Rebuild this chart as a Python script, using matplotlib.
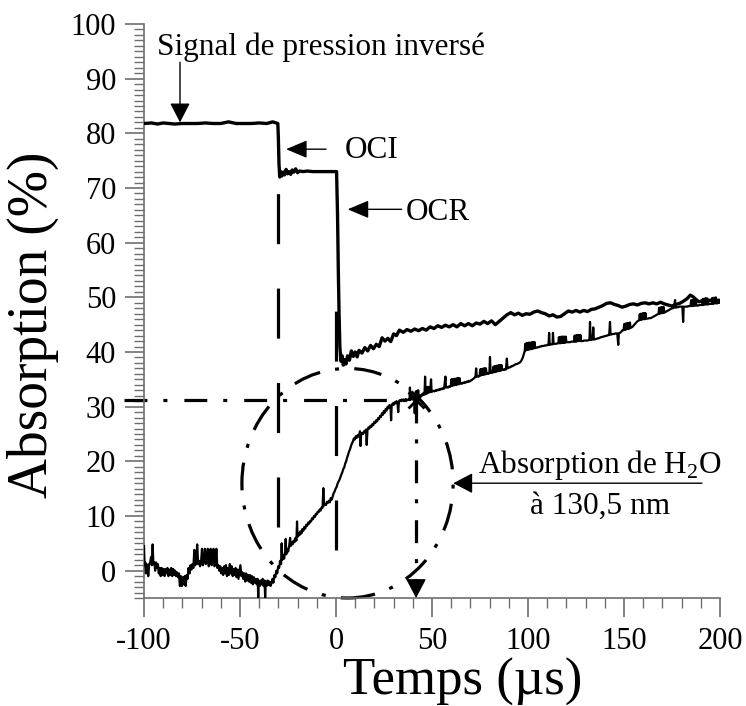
import matplotlib
matplotlib.use("Agg")
import matplotlib.pyplot as plt
from matplotlib.patches import Ellipse
from matplotlib.ticker import MultipleLocator, FixedLocator

plt.rcParams['font.family'] = ['Liberation Serif', 'DejaVu Serif']
plt.rcParams['mathtext.fontset'] = 'custom'
plt.rcParams['mathtext.rm'] = 'Liberation Serif'
plt.rcParams['lines.scale_dashes'] = False

# Inverted pressure signal (smooth trace)
t_press = [-100, -96, -93, -90, -87, -84, -80, -76, -72, -68, -64, -60, -56, -52, -48, -44, -40, -36, -33,
           -30.3, -30.0, -29.7, -29.3, -28.8, -28.2, -27.5, -26.8, -26, -25.2, -24.4, -23.6, -22.8, -22, -21,
           -20, -19, -17, -15, -12, -8, -4, 0.3, 0.8, 1.2, 1.6, 2.0, 2.6, 3.2, 3.8, 4.5, 5.2, 6, 7, 8, 9, 10,
           11, 12, 13.5, 15, 16.5, 18, 19.5, 21, 22.5, 24, 25.5, 27, 28.5, 30, 31.5, 33, 35, 37, 39, 41, 43,
           45, 47, 49, 51, 53, 55, 57, 59, 61, 63, 65, 67, 69, 71, 73, 75, 77, 79, 81, 83, 85, 87, 89, 91, 93,
           95, 97, 99, 101, 103, 105, 107, 109, 111, 113, 115, 117, 119, 121, 123, 125, 127, 129, 131, 133,
           135, 137, 139, 141, 143, 145, 147, 149, 151, 153, 155, 157, 159, 161, 163, 165, 167, 169, 171, 173,
           175, 177, 179, 181, 183, 184.5, 186, 187.5, 189, 191, 193, 195, 197, 199, 200]
a_press = [81.8, 81.9, 81.7, 81.9, 81.8, 81.7, 81.8, 81.8, 81.8, 81.9, 81.8, 81.8, 82.1, 81.8, 81.8, 81.8, 81.9, 81.8, 82.1,
           81.8, 79.0, 74.5, 72.0, 73.0, 72.2, 72.9, 72.4, 73.4, 72.6, 73.0, 72.5, 73.3, 72.9, 73.5,
           72.8, 73.1, 73.0, 73.1, 73.0, 73.0, 73.0, 73.0, 65.0, 55.0, 47.0, 41.0, 38.3, 39.3, 37.6, 38.6, 37.8, 39.3, 38.5, 40.2, 39.2, 40.0,
           39.1, 40.3, 39.8, 40.8, 40.2, 41.2, 40.6, 41.4, 41.0, 42.6, 42.0, 42.5, 41.9, 43.3, 43.0, 44.0, 43.6, 44.1, 43.8, 44.2, 43.9,
           44.3, 44.0, 44.6, 44.3, 44.8, 44.5, 44.9, 44.6, 45.0, 44.6, 45.2, 44.8, 45.2, 44.8, 45.3, 45.1, 45.6, 45.2, 45.7, 45.0, 45.6, 46.2, 46.8, 47.2, 46.8,
           47.1, 46.7, 47.0, 46.9, 47.3, 47.5, 47.2, 47.0, 46.6, 46.8, 46.4, 46.5, 47.0, 47.5, 47.3, 47.6, 47.3, 47.6, 47.4, 47.8,
           47.9, 48.2, 48.5, 48.9, 49.0, 48.7, 48.5, 48.2, 48.4, 48.7, 48.8, 48.6, 48.9, 49.0, 48.8, 49.0, 48.8, 49.1, 48.8, 48.6,
           48.4, 48.7, 48.9, 49.3, 49.8, 50.4, 50.1, 49.6, 49.2, 49.4, 49.2, 49.5, 49.3, 49.5, 49.4]

h2o_before = [
    (-100, 4.5), (-99.7, 1.0), (-99.3, 1.5), (-99, -0.5), (-98.7, 1.2), (-98.2, 1.0), (-97.8, -1.0), (-97.3, 1.2),
    (-96.8, 1.5), (-96.3, 2.5), (-95.9, 1.0), (-95.5, 4.8), (-95.1, 1.2), (-94.6, 1.5), (-94.2, 0.0), (-93.7, 1.5),
    (-93.3, 0.5), (-92.8, 1.2), (-92.3, -0.5), (-91.8, 0.5), (-91.3, -1.0), (-90.8, 0.5), (-90.3, -0.8), (-89.8, 0.3),
    (-89.3, -1.0), (-88.8, 0.3), (-88.3, -0.5), (-87.8, 0.5), (-87.3, -1.0), (-86.8, 0.2), (-86.3, -0.8), (-85.8, 0.5),
    (-85.3, -1.0), (-84.8, 0.3), (-84.3, -0.8), (-83.8, 0.0), (-83.3, -1.0), (-82.8, -0.3), (-82.3, -1.2), (-81.8, -0.5),
    (-81.3, -2.8), (-80.8, -1.0), (-80.3, -2.8), (-79.8, -1.2), (-79.3, -2.5), (-78.8, -1.0), (-78.3, -2.8), (-77.8, -0.8),
    (-77.3, -1.5), (-76.8, 0.5), (-76.3, -0.5), (-75.8, 1.0), (-75.3, 0.2), (-74.8, 1.2), (-74.3, 0.5), (-73.8, 3.8),
    (-73.3, 1.0), (-72.8, 1.5), (-72.3, 4.8), (-71.8, 1.2), (-71.3, 1.8), (-70.8, 0.8), (-70.3, 1.5), (-69.8, 4.0),
    (-69.3, 1.0), (-68.8, 1.8), (-68.3, 4.0), (-67.8, 1.2), (-67.3, 1.5), (-66.8, 4.0), (-66.3, 0.8), (-65.8, 1.5),
    (-65.3, 4.0), (-64.8, 1.0), (-64.3, 1.5), (-63.8, 4.0), (-63.3, 0.8), (-62.8, 1.2), (-62.3, 4.0), (-61.8, 0.5),
    (-61.3, 1.0), (-60.8, 0.0), (-60.3, 0.8), (-59.8, -0.5), (-59.3, 0.5), (-58.8, -0.8), (-58.3, 0.8), (-57.8, -0.5),
    (-57.3, 1.0), (-56.8, -1.0), (-56.3, 0.5), (-55.8, -0.8), (-55.3, 1.2), (-54.8, -0.5), (-54.3, 0.8), (-53.8, -1.0),
    (-53.3, 0.3), (-52.8, -0.8), (-52.3, 0.5), (-51.8, -1.2), (-51.3, 0.2), (-50.8, -1.5), (-50.3, -0.2), (-49.8, 1.0),
    (-49.3, -1.0), (-48.8, -0.3), (-48.3, -1.5), (-47.8, -0.5), (-47.3, -2.0), (-46.8, -0.5), (-46.3, -1.8), (-45.8, -0.8),
    (-45.3, -2.0), (-44.8, -0.8), (-44.3, -2.2), (-43.8, -1.0), (-43.3, -2.5), (-42.8, -1.2), (-42.3, -2.2), (-41.8, -1.5),
    (-41.3, -2.5), (-40.8, -1.5), (-40.5, -5.0), (-40.2, -1.8), (-39.7, -2.8), (-39.2, -1.8), (-38.7, -2.5), (-38.2, -1.5),
    (-37.7, -2.8), (-37.2, -1.8), (-36.9, -5.0), (-36.6, -2.0), (-36.1, -2.8), (-35.6, -1.8), (-35.1, -2.6), (-34.6, -2.0),
    (-34.1, -2.8), (-33.6, -2.3),
]
h2o_rise = [
    (-33.1, -1.5), (-32.6, -2.2), (-32.1, -0.8), (-31.6, -1.2), (-31.1, 0.0), (-30.6, -0.5), (-30.1, 0.8), (-29.6, 0.5),
    (-29.1, 1.8), (-28.6, 1.2), (-28.3, 5.0), (-28.0, 2.0), (-27.5, 2.8), (-27.0, 2.2), (-26.5, 3.5), (-26.2, 5.8),
    (-25.9, 3.0), (-25.4, 4.0), (-24.9, 3.5), (-24.4, 4.5), (-23.9, 6.0), (-23.6, 4.5), (-23.1, 5.2), (-22.6, 4.8),
    (-22.1, 5.5), (-21.6, 5.2), (-21.1, 6.0), (-20.6, 5.5), (-20.3, 9.0), (-20.0, 6.2), (-19.5, 6.8), (-19.0, 6.5),
    (-18.5, 7.2), (-18.0, 6.8), (-17.5, 7.6), (-17.0, 7.3), (-16.5, 8.0), (-16.0, 7.7), (-15.5, 8.4), (-15.0, 8.2),
    (-14.5, 8.8), (-14.0, 8.6), (-13.5, 9.1), (-13.0, 9.0), (-12.5, 9.6), (-12.0, 9.4), (-11.5, 10.0), (-11.0, 9.8),
    (-10.5, 10.4), (-10.0, 10.3), (-9.5, 10.8), (-9.0, 10.7), (-8.5, 11.2), (-8.0, 11.0), (-7.5, 11.6), (-7.0, 11.5),
    (-6.6, 15.1), (-6.2, 11.9), (-5.7, 12.2), (-5.2, 12.0), (-4.7, 12.6), (-4.2, 12.4), (-3.7, 12.8), (-3.2, 12.5),
    (-2.7, 13.3), (-2.2, 13.0), (-1.7, 13.6), (-1.2, 14.2), (-0.7, 14.5), (-0.2, 15.0), (0.3, 15.3), (0.8, 15.9),
    (1.3, 16.3), (1.8, 16.6), (2.3, 17.1), (2.8, 17.6), (3.3, 18.0), (3.8, 18.6), (4.3, 18.9), (4.8, 19.6),
    (5.3, 20.0), (5.8, 20.7), (6.3, 21.2), (6.8, 21.8), (7.3, 22.2), (7.8, 22.8), (8.3, 23.3), (8.8, 23.6),
    (9.3, 24.2), (9.8, 24.0), (10.3, 24.6), (10.8, 24.3), (11.3, 24.8), (11.8, 24.5), (12.5, 25.5), (12.8, 22.8),
    (13.1, 25.0), (13.6, 25.2), (14.1, 25.0), (14.6, 25.5), (15.1, 25.3), (15.6, 25.8), (16.0, 23.0), (16.4, 25.8),
    (16.9, 26.2), (17.4, 26.0), (17.9, 26.5), (18.4, 26.3), (18.9, 26.8), (19.4, 26.6), (19.9, 27.2), (20.4, 27.0),
    (20.9, 27.5), (21.4, 27.3), (21.9, 27.9), (22.4, 27.7), (22.9, 28.3), (23.4, 28.1), (23.9, 28.8), (24.4, 28.5),
    (24.9, 29.2), (25.4, 28.9), (25.9, 29.6), (26.4, 29.3), (26.9, 30.0), (27.4, 29.7), (27.9, 30.3), (28.4, 30.0),
    (28.7, 27.5), (29.0, 30.2), (29.5, 30.6), (30.0, 30.3), (30.5, 30.8), (31.0, 30.6), (31.5, 31.0), (32.0, 30.8),
    (32.4, 29.0), (32.8, 31.0), (33.3, 31.2), (33.8, 31.0), (34.3, 31.3), (34.8, 31.1), (35.3, 31.3), (35.8, 31.1),
    (36.3, 31.4), (36.8, 31.2),
]
h2o_after = [
    (37.3, 31.2), (37.8, 31.4), (38.3, 31.2), (38.5, 33.5), (38.8, 31.3), (39.3, 31.5), (39.8, 31.3), (40.3, 31.6),
    (40.8, 31.4), (41.0, 28.8), (41.3, 31.5), (41.6, 32.8), (41.9, 31.6), (42.2, 32.9), (42.5, 31.7), (42.8, 33.0),
    (43.1, 31.8), (43.6, 32.0), (44.1, 31.9), (44.6, 32.2), (45.1, 32.1), (45.6, 32.3), (46.1, 32.2), (46.4, 35.5),
    (46.7, 32.3), (47.0, 33.5), (47.3, 32.4), (47.6, 33.6), (47.9, 32.5), (48.2, 33.6), (48.5, 32.6), (49.0, 32.7),
    (49.5, 35.0), (49.8, 32.7), (50.3, 32.8), (50.8, 32.9), (51.3, 32.8), (51.8, 33.0), (52.3, 32.9), (52.8, 33.1),
    (53.3, 33.0), (53.8, 33.2), (54.3, 33.1), (54.8, 33.3), (55.3, 33.2), (55.8, 33.4), (56.3, 33.3), (57.0, 35.5),
    (57.3, 33.5), (57.8, 33.6), (58.3, 33.5), (58.8, 33.7), (59.3, 33.6), (59.8, 33.8), (60.1, 35.0), (60.4, 33.8),
    (60.7, 35.0), (61.0, 33.9), (61.3, 35.0), (61.6, 33.9), (61.9, 35.1), (62.2, 34.0), (62.5, 35.1), (62.8, 34.0),
    (63.1, 35.2), (63.4, 34.1), (63.7, 35.2), (64.0, 34.1), (64.3, 35.2), (64.6, 34.2), (65.1, 34.3), (65.6, 34.2),
    (66.1, 34.4), (66.6, 34.3), (67.1, 34.5), (67.6, 34.4), (68.1, 34.6), (68.6, 34.5), (69.1, 34.7), (69.6, 34.6),
    (70.1, 34.8), (70.6, 34.8), (71.1, 35.0), (71.6, 35.1), (72.1, 35.3), (72.6, 35.4), (73.0, 37.0), (73.3, 35.5),
    (73.8, 35.6), (74.3, 35.5), (74.8, 35.7), (75.1, 36.8), (75.4, 35.7), (75.7, 36.9), (76.0, 35.8), (76.3, 36.9),
    (76.6, 35.8), (76.9, 37.0), (77.2, 35.9), (77.5, 37.0), (77.8, 35.9), (78.1, 37.0), (78.4, 36.0), (78.9, 36.1),
    (79.4, 36.0), (79.9, 36.2), (80.2, 39.1), (80.5, 36.2), (81.0, 36.3), (81.5, 36.2), (82.0, 37.3), (82.3, 36.3),
    (82.6, 37.4), (82.9, 36.4), (83.2, 37.4), (83.5, 36.4), (83.8, 37.5), (84.1, 36.5), (84.4, 37.5), (84.7, 36.5),
    (85.0, 37.6), (85.3, 36.6), (85.6, 37.6), (85.9, 36.6), (86.2, 37.6), (86.5, 36.7), (87.0, 36.8), (87.5, 36.7),
    (88.0, 36.9), (88.5, 36.8), (89.0, 38.8), (89.3, 37.0), (89.8, 37.1), (90.3, 37.2), (90.8, 37.2), (91.3, 37.4),
    (91.8, 37.4), (92.3, 37.5), (92.8, 37.6), (93.3, 37.7), (93.8, 37.8), (94.3, 37.8), (94.8, 37.9), (95.3, 38.0),
    (95.8, 38.1), (96.3, 38.3), (96.8, 38.6), (97.3, 39.0), (97.8, 39.6), (98.3, 40.2), (98.6, 41.5), (98.9, 40.3),
    (99.2, 41.6), (99.5, 40.4), (99.8, 41.6), (100.1, 40.4), (100.4, 41.7), (100.7, 40.5), (101.0, 41.7), (101.3, 40.5),
    (101.6, 41.7), (101.9, 40.6), (102.2, 41.8), (102.5, 40.6), (102.8, 41.8), (103.1, 40.7), (103.4, 41.8), (103.7, 40.7),
    (104.2, 40.8), (104.7, 40.8), (105.2, 40.9), (105.7, 40.9), (106.2, 41.0), (106.7, 41.0), (107.2, 41.1), (107.7, 41.1),
    (108.2, 41.1), (108.7, 41.2), (109.2, 41.2), (109.7, 41.2), (110.2, 41.3), (110.7, 41.3), (111.0, 43.5), (111.3, 41.3),
    (111.8, 41.4), (112.3, 41.4), (112.8, 41.4), (113.0, 43.5), (113.3, 41.5), (113.8, 41.5), (114.3, 41.5), (114.8, 41.5),
    (115.3, 41.6), (115.8, 41.6), (116.1, 42.7), (116.4, 41.6), (116.7, 42.7), (117.0, 41.6), (117.3, 42.8), (117.6, 41.7),
    (117.9, 42.8), (118.2, 41.7), (118.5, 42.8), (118.8, 41.7), (119.1, 42.8), (119.4, 41.7), (119.7, 42.8), (120.0, 41.8),
    (120.5, 41.8), (121.0, 41.8), (121.5, 41.8), (122.0, 41.8), (122.5, 41.9), (123.0, 41.9), (123.5, 41.9), (124.0, 41.9),
    (124.3, 43.0), (124.6, 41.9), (124.9, 43.0), (125.2, 41.9), (125.5, 43.1), (125.8, 42.0), (126.1, 43.1), (126.4, 42.0),
    (126.7, 43.1), (127.0, 42.0), (127.3, 43.1), (127.6, 42.0), (128.1, 42.0), (128.6, 42.0), (129.1, 42.1), (129.6, 42.1),
    (130.1, 42.1), (130.6, 42.1), (131.1, 42.1), (131.6, 42.2), (132.0, 42.2), (132.3, 45.5), (132.6, 42.2), (133.1, 42.2),
    (133.6, 42.3), (134.0, 44.5), (134.3, 42.3), (134.8, 42.3), (135.3, 42.4), (135.8, 42.4), (136.3, 42.5), (136.8, 42.5),
    (137.3, 42.6), (137.8, 42.7), (138.3, 42.7), (138.8, 42.8), (139.3, 42.8), (139.8, 42.9), (140.3, 42.9), (140.8, 43.0),
    (141.3, 43.0), (141.8, 43.1), (142.3, 43.1), (142.7, 45.5), (143.0, 43.2), (143.5, 43.2), (144.0, 43.3), (144.5, 43.3),
    (145.0, 43.3), (145.5, 43.4), (146.0, 43.4), (146.5, 43.4), (147.0, 41.3), (147.3, 43.4), (147.8, 43.5), (148.3, 43.6),
    (148.8, 43.8), (149.3, 44.0), (149.8, 44.0), (150.1, 45.1), (150.4, 44.1), (150.7, 45.2), (151.0, 44.1), (151.3, 45.2),
    (151.6, 44.2), (151.9, 45.3), (152.2, 44.2), (152.5, 45.3), (152.8, 44.3), (153.1, 45.4), (153.4, 44.4), (153.9, 44.5),
    (154.4, 44.6), (154.9, 44.8), (155.4, 45.0), (155.9, 45.2), (156.4, 45.4), (156.9, 45.6), (157.4, 45.7), (157.9, 45.8),
    (158.2, 46.9), (158.5, 45.9), (158.8, 47.0), (159.1, 45.9), (159.4, 47.0), (159.7, 46.0), (160.0, 47.1), (160.3, 46.0),
    (160.6, 47.1), (160.9, 46.0), (161.2, 47.1), (161.5, 46.1), (162.0, 46.1), (162.5, 46.1), (163.0, 46.2), (163.5, 46.2),
    (164.0, 46.2), (164.5, 46.3), (165.0, 46.4), (165.5, 46.5), (166.0, 46.6), (166.5, 46.7), (167.0, 46.8), (167.5, 46.9),
    (168.0, 47.0), (168.3, 48.1), (168.6, 47.0), (168.9, 48.1), (169.2, 47.1), (169.5, 48.2), (169.8, 47.1), (170.1, 48.2),
    (170.4, 47.2), (170.7, 48.2), (171.0, 47.2), (171.5, 47.3), (172.0, 47.4), (172.5, 47.5), (173.0, 47.6), (173.5, 47.7),
    (174.0, 47.8), (174.5, 47.9), (175.0, 48.0), (175.5, 48.0), (176.0, 48.1), (176.6, 49.5), (176.9, 48.1), (177.4, 48.2),
    (177.9, 48.2), (178.4, 48.2), (178.9, 48.3), (179.4, 48.3), (179.9, 48.3), (180.4, 48.3), (180.8, 45.5), (181.1, 48.3),
    (181.6, 48.3), (182.1, 48.3), (182.6, 48.3), (183.1, 48.3), (183.6, 48.4), (184.1, 48.4), (184.6, 48.4), (185.0, 49.5),
    (185.3, 48.4), (185.6, 49.5), (185.9, 48.4), (186.2, 49.5), (186.5, 48.5), (186.8, 49.6), (187.1, 48.5), (187.4, 49.6),
    (187.7, 48.5), (188.2, 48.5), (188.7, 48.5), (189.2, 48.6), (189.7, 48.6), (190.2, 48.6), (190.7, 48.6), (191.0, 49.7),
    (191.3, 48.6), (191.6, 49.7), (191.9, 48.7), (192.2, 49.8), (192.5, 48.7), (192.8, 49.8), (193.1, 48.7), (193.4, 49.8),
    (193.7, 48.7), (194.2, 48.8), (194.7, 48.8), (195.2, 48.8), (195.7, 48.8), (196.0, 49.9), (196.3, 48.8), (196.6, 49.9),
    (196.9, 48.9), (197.2, 49.9), (197.5, 48.9), (197.8, 50.0), (198.1, 48.9), (198.6, 48.9), (199.1, 49.0), (199.6, 49.0),
    (200.0, 49.0),
]
t_h2o = [p[0] for p in h2o_before + h2o_rise + h2o_after]
a_h2o = [p[1] for p in h2o_before + h2o_rise + h2o_after]

x_ticks = [-100, -50, 0, 50, 100, 150, 200]
y_ticks = [0, 10, 20, 30, 40, 50, 60, 70, 80, 90, 100]

# Reference markers
t_oci = -30          # onde de choc incidente
t_ocr = 0            # onde de choc réfléchie
cross_t, cross_a = 41.7, 31.2
circle_center = (6.0, 16.0)
circle_size = (110.0, 42.0)

W, H = 746, 706
fig = plt.figure(figsize=(W / 100, H / 100), dpi=100)
ax = fig.add_axes([144 / W, 1 - 598 / H, 576 / W, 574 / H])
ax.set_xlim(-100, 200)
ax.set_ylim(-5, 100)

axis_color = '#6e6e6e'
for side in ('top', 'right'):
    ax.spines[side].set_visible(False)
for side in ('left', 'bottom'):
    ax.spines[side].set_color(axis_color)
    ax.spines[side].set_linewidth(1.2)

ax.xaxis.set_major_locator(FixedLocator(x_ticks))
ax.xaxis.set_minor_locator(MultipleLocator(10))
ax.yaxis.set_major_locator(FixedLocator(y_ticks))
ax.yaxis.set_minor_locator(MultipleLocator(1))
ax.set_xticklabels([str(v) for v in x_ticks])
ax.set_yticklabels([str(v) for v in y_ticks])
ax.tick_params(which='major', direction='out', length=14, width=1.2, color=axis_color,
               labelsize=22, labelcolor='black')
ax.tick_params(which='minor', direction='out', length=7, width=1.0, color=axis_color)
ax.tick_params(axis='y', which='major', pad=6)
ax.tick_params(axis='x', which='major', pad=7)

dash_long = (0, (36, 32))
dash_dot = (0, (16.5, 11.5, 2.9, 12.2))

# Vertical markers for the incident and reflected shocks
ax.plot([t_oci, t_oci], [8.0, 70.0], color='black', lw=2.3, linestyle=dash_long, zorder=2)
ax.plot([t_ocr, t_ocr], [3.8, 48.4], color='black', lw=2.3, linestyle=dash_long, zorder=2)

# Data traces
ax.plot(t_h2o, a_h2o, color='black', lw=1.6, zorder=3)
ax.plot(t_press, a_press, color='black', lw=2.4, zorder=4)

# Dash-dot guides at 31 %
ax.plot([-110.4, cross_t], [cross_a, cross_a], color='black', lw=2.3, linestyle=dash_dot,
        clip_on=False, zorder=2)
ax.plot([cross_t, cross_t], [cross_a, -1.6], color='black', lw=2.3, linestyle=dash_dot, zorder=2)
ax.plot([cross_t], [cross_a], marker='x', ms=11, mew=2, color='black', zorder=5)

ell = Ellipse(circle_center, circle_size[0], circle_size[1], fill=False, edgecolor='black',
              lw=2.3, linestyle=(0, (20, 11, 2.9, 11)), clip_on=False, zorder=2)
ax.add_patch(ell)


def arrow(tip, tail, hl=12, hw=6.2, lw=1.0):
    ax.annotate('', xy=tip, xytext=tail,
                arrowprops=dict(arrowstyle=f'-|>,head_length={hl},head_width={hw}',
                                color='black', lw=lw, shrinkA=0, shrinkB=0,
                                mutation_scale=1),
                annotation_clip=False)


txt = dict(fontsize=22.5, color='black')

ax.text(-93.4, 94.3, 'Signal de pression inversé', ha='left', va='baseline', **txt)
arrow((-81.25, 82.0), (-81.25, 93.0))

arrow((-26.0, 77.1), (-5.2, 77.1), hl=13, hw=5.5)
ax.text(4.7, 75.4, 'OCI', ha='left', va='baseline', **txt)

arrow((6.1, 66.1), (34.2, 66.1), hl=13, hw=5.5)
ax.text(36.5, 64.1, 'OCR', ha='left', va='baseline', **txt)

arrow((61.1, 16.0), (190.6, 16.0), hl=12, hw=6.3)
ax.text(137.5, 17.9, r'Absorption de H$_\mathrm{2}$O', ha='center', va='baseline', clip_on=False, **txt)
ax.text(137.5, 10.4, 'à 130,5 nm', ha='center', va='baseline', **txt)

arrow((cross_t, -5.0), (cross_t, -1.6), hl=12, hw=6.3)

fig.text(33 / W, 1 - 325 / H, 'Absorption (%)', rotation=90, ha='center', va='center',
         fontsize=40)
fig.text(463 / W, 1 - 694.5 / H, 'Temps (µs)', ha='center', va='baseline', fontsize=38)

fig.savefig('out.png', dpi=100)
